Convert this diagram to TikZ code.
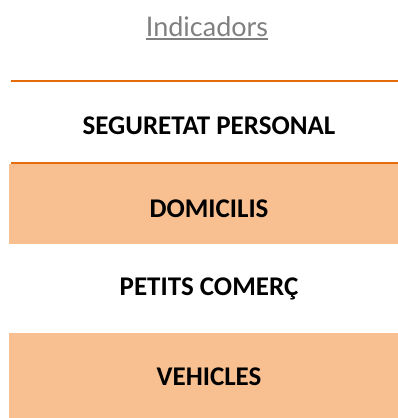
\documentclass[tikz,border=0pt]{standalone}
\usepackage{fontspec}
\setmainfont{Carlito}
\newfontfamily\titlefont{Lato}
\usepackage{xcolor}
\usepackage{tikz}
\usetikzlibrary{positioning}

\definecolor{boxorange}{HTML}{F8BF91}
\definecolor{lineorange}{HTML}{E46C0A}
\definecolor{titlegray}{HTML}{808080}

\begin{document}
\begin{tikzpicture}[x=1pt, y=-1pt,
    rowtext/.style={anchor=base, inner sep=0pt, font=\bfseries\fontsize{27}{32}\selectfont},
    rowbox/.style={anchor=north west, fill=boxorange, minimum width=389pt, inner sep=0pt},
    rule/.style={draw=lineorange, line width=2.6pt}]
    \useasboundingbox (0,0) rectangle (398,418);
    % orange boxes
    \node[rowbox, minimum height=80pt] (box1) at (9,164) {};
    \node[rowbox, minimum height=85pt] (box2) at (9,333) {};
    % title
    \node[anchor=base, inner sep=0pt, text=titlegray, font=\titlefont\fontsize{27}{32}\selectfont] (title) at (207,36) {Indicadors};
    \draw[titlegray, line width=1.8pt] ([yshift=-2.6pt]title.base west) -- ([yshift=-2.6pt]title.base east);
    % rules round the first row
    \coordinate (line1_w) at (11,81);
    \coordinate (line1_e) at (398,81);
    \coordinate (line2_w) at (11,163);
    \coordinate (line2_e) at (398,163);
    \draw[rule] (line1_w) -- (line1_e);
    \draw[rule] (line2_w) -- (line2_e);
    % row texts
    \node[rowtext] (row1) at (209,134) {SEGURETAT PERSONAL};
    \node[rowtext] (row2) at (209,217) {DOMICILIS};
    \node[rowtext] (row3) at (209,295) {PETITS COMERÇ};
    \node[rowtext] (row4) at (209,385) {VEHICLES};
\end{tikzpicture}
\end{document}
